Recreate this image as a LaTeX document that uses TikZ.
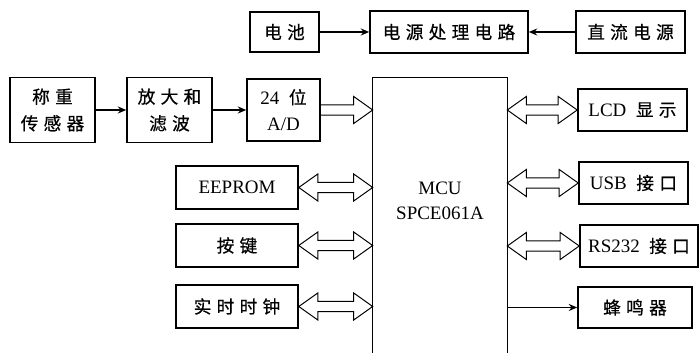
\documentclass[tikz,border=0pt]{standalone}
\usepackage{fontspec}
\setmainfont{Liberation Serif}
\newfontfamily\cjk[Scale=0.93,LetterSpace=30,FakeBold=0.6]{Noto Sans CJK SC}
\newcommand{\zh}[1]{{\cjk #1}}
\newcommand{\gap}{\hspace{0.5em}}
\usetikzlibrary{positioning, arrows.meta, calc}

% hollow bus arrows: head length, head half width, shaft half width
\newcommand{\bushead}{13.5pt}
\newcommand{\buswide}{9.6pt}
\newcommand{\busshaft}{3.6pt}
\newcommand{\busboth}[2]{%
  \draw[bus] let \p1=(#1), \p2=(#2) in
    (\x1,\y1) -- (\x1+\bushead,\y1+\buswide) -- (\x1+\bushead,\y1+\busshaft)
    -- (\x2-\bushead,\y1+\busshaft) -- (\x2-\bushead,\y1+\buswide) -- (\x2,\y1)
    -- (\x2-\bushead,\y1-\buswide) -- (\x2-\bushead,\y1-\busshaft)
    -- (\x1+\bushead,\y1-\busshaft) -- (\x1+\bushead,\y1-\buswide) -- cycle;}
\newcommand{\busone}[2]{%
  \draw[bus] let \p1=(#1), \p2=(#2) in
    (\x1,\y1+\busshaft) -- (\x2-\bushead,\y1+\busshaft) -- (\x2-\bushead,\y1+\buswide)
    -- (\x2,\y1) -- (\x2-\bushead,\y1-\buswide) -- (\x2-\bushead,\y1-\busshaft)
    -- (\x1,\y1-\busshaft);}

\begin{document}
\begin{tikzpicture}[
    x=0.025cm, y=-0.025cm,
    font=\fontsize{13.5}{19}\selectfont,
    box/.style={draw, line width=1.1pt, inner sep=0pt, align=center},
    leftbox/.style={box, minimum width=3.05cm, minimum height=1.075cm},
    rightbox/.style={box, minimum width=2.725cm, minimum height=1.05cm},
    arrow/.style={-{Stealth[length=6pt,width=5pt]}, line width=1.1pt},
    bus/.style={line width=0.7pt, line join=miter}
]
    \useasboundingbox (0,0) rectangle (700,353);

    % Power supply
    \node[box, minimum width=1.725cm, minimum height=1cm] (battery) at (284.5,32) {\zh{电池}};
    \node[box, minimum width=3.95cm, minimum height=1.05cm] (power) at (449,32) {\zh{电源处理电路}};
    \node[rightbox] (dcin) at (630.5,32) {\zh{直流电源}};

    % Weighing signal chain
    \node[box, minimum width=2.125cm, minimum height=1.625cm] (sensor) at (52.5,110) {\zh{称重}\\\zh{传感器}};
    \node[box, minimum width=2.125cm, minimum height=1.625cm] (amp) at (169.5,110) {\zh{放大和}\\\zh{滤波}};
    \node[box, minimum width=1.825cm, minimum height=1.55cm] (adc) at (283.5,110) {24\gap\zh{位}\\A/D};

    % MCU, open at the bottom
    \node[minimum width=3.35cm, minimum height=6.875cm] (mcu) at (440,215.5) {};
    \node[align=center, font=\fontsize{13.5}{17.8}\selectfont] (mcutext) at (440,201) {MCU\\SPCE061A};
    \draw[line width=1pt] (mcu.south west) -- (mcu.north west) -- (mcu.north east) -- (mcu.south east);

    % Left peripherals
    \node[leftbox] (eeprom) at (237,187.5) {EEPROM};
    \node[leftbox] (keys) at (237,245.5) {\zh{按键}};
    \node[leftbox] (rtc) at (237,306.5) {\zh{实时时钟}};

    % Right peripherals
    \node[rightbox] (lcd) at (632.5,110) {LCD\gap\zh{显示}};
    \node[rightbox] (usb) at (633.5,183) {USB\gap\zh{接口}};
    \node[box, minimum width=2.95cm, minimum height=1.05cm] (rs232) at (639,246) {RS232\gap\zh{接口}};
    \node[box, minimum width=2.85cm, minimum height=1.025cm] (buzzer) at (635,307.5) {\zh{蜂鸣器}};

    % Connections
    \draw[arrow] (battery) -- (power);
    \draw[arrow] (dcin) -- (power);
    \draw[arrow] (sensor) -- (amp);
    \draw[arrow] (amp) -- (adc);
    \draw[arrow] (buzzer.west -| mcu.east) -- (buzzer.west);

    % Buses
    \busone{adc.east}{adc.east -| mcu.west}
    \busboth{eeprom.east}{eeprom.east -| mcu.west}
    \busboth{keys.east}{keys.east -| mcu.west}
    \busboth{rtc.east}{rtc.east -| mcu.west}
    \busboth{lcd.west -| mcu.east}{lcd.west}
    \busboth{usb.west -| mcu.east}{usb.west}
    \busboth{rs232.west -| mcu.east}{rs232.west}

\end{tikzpicture}
\end{document}
